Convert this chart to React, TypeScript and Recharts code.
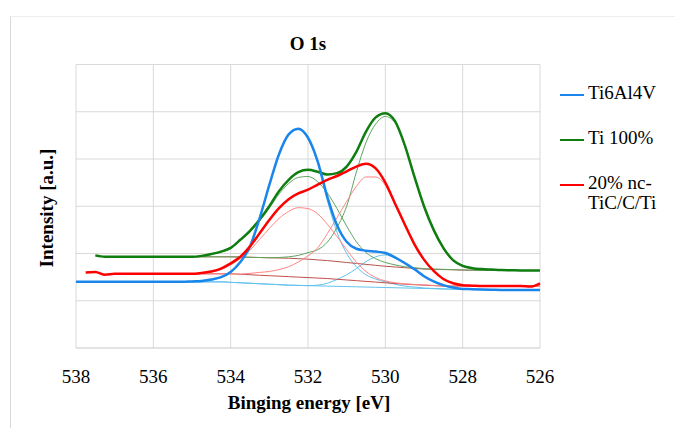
import { CartesianGrid, Line, LineChart, XAxis, YAxis } from 'recharts';

// binding energy grid (eV), high to low
const energy = [
  538, 537.75, 537.5, 537.25, 537, 536.75, 536.5, 536.25, 536, 535.75, 535.5, 535.25, 535, 534.75, 534.5, 534.25,
  534, 533.75, 533.5, 533.25, 533, 532.75, 532.5, 532.25, 532, 531.75, 531.5, 531.25, 531, 530.75, 530.5, 530.25,
  530, 529.75, 529.5, 529.25, 529, 528.75, 528.5, 528.25, 528, 527.75, 527.5, 527.25, 527, 526.75, 526.5, 526.25, 526,
];

const xTicks = [538, 536, 534, 532, 530, 528, 526];
const yTicks = [0, 1, 2, 3, 4, 5, 6];

const N = null;

// Ti6Al4V
const ti64 = [
  1.4, 1.4, 1.4, 1.4, 1.4, 1.4, 1.4, 1.4, 1.4, 1.4, 1.4, 1.4, 1.41, 1.42, 1.45, 1.5,
  1.61, 1.82, 2.15, 2.75, 3.45, 4.1, 4.52, 4.64, 4.45, 3.95, 3.2, 2.6, 2.25, 2.1, 2.06, 2.04,
  2.01, 1.92, 1.8, 1.67, 1.52, 1.41, 1.33, 1.28, 1.25, 1.245, 1.24, 1.235, 1.23, 1.23, 1.23, 1.23, 1.23,
];
const ti64Bg = [
  N, N, N, N, N, N, N, N, N, N, 1.4, 1.4, 1.4, 1.4, 1.4, 1.4,
  1.39, 1.38, 1.37, 1.36, 1.35, 1.34, 1.33, 1.325, 1.32, 1.315, 1.31, 1.305, 1.3, 1.295, 1.29, 1.285,
  1.28, 1.275, 1.27, 1.265, 1.26, 1.255, 1.25, 1.245, 1.24, 1.237, 1.235, 1.232, 1.23, 1.23, 1.23, 1.23, 1.23,
];
const ti64P1 = [
  N, N, N, N, N, N, N, N, N, N, 1.4, 1.4, 1.4, 1.4, 1.44, 1.49,
  1.6, 1.81, 2.14, 2.74, 3.44, 4.09, 4.51, 4.62, 4.42, 3.91, 3.12, 2.45, 2.0, 1.72, 1.55, 1.46,
  1.4, 1.35, 1.31, 1.29, 1.27, 1.26, 1.25, 1.245, 1.24, 1.237, 1.235, 1.232, 1.23, 1.23, 1.23, 1.23, 1.23,
];
const ti64P2 = [
  N, N, N, N, N, N, N, N, N, N, 1.4, 1.4, 1.4, 1.4, 1.4, 1.4,
  1.39, 1.38, 1.37, 1.36, 1.35, 1.34, 1.33, 1.325, 1.32, 1.33, 1.37, 1.45, 1.55, 1.68, 1.83, 1.93,
  1.97, 1.9, 1.78, 1.65, 1.51, 1.4, 1.32, 1.27, 1.245, 1.238, 1.235, 1.232, 1.23, 1.23, 1.23, 1.23, 1.23,
];

// Ti 100%
const ti100 = [
  N, N, 1.96, 1.93, 1.93, 1.93, 1.93, 1.93, 1.93, 1.93, 1.93, 1.93, 1.93, 1.95, 1.99, 2.04,
  2.12, 2.29, 2.48, 2.72, 3.0, 3.32, 3.56, 3.72, 3.77, 3.73, 3.67, 3.7, 3.84, 4.15, 4.58, 4.88,
  4.97, 4.8, 4.3, 3.63, 3.0, 2.5, 2.12, 1.86, 1.74, 1.69, 1.67, 1.66, 1.65, 1.645, 1.64, 1.64, 1.64,
];
const ti100Bg = [
  N, N, N, N, N, N, N, N, N, N, 1.93, 1.93, 1.93, 1.93, 1.93, 1.93,
  1.93, 1.925, 1.92, 1.915, 1.91, 1.905, 1.9, 1.89, 1.88, 1.865, 1.85, 1.83, 1.81, 1.79, 1.77, 1.75,
  1.73, 1.715, 1.7, 1.685, 1.67, 1.665, 1.66, 1.655, 1.65, 1.647, 1.645, 1.642, 1.64, 1.64, 1.64, 1.64, 1.64,
];
const ti100P1 = [
  N, N, N, N, N, N, N, N, N, N, 1.93, 1.93, 1.93, 1.94, 1.98, 2.03,
  2.11, 2.27, 2.46, 2.69, 2.96, 3.26, 3.48, 3.61, 3.63, 3.52, 3.28, 2.95, 2.58, 2.25, 2.02, 1.89,
  1.81, 1.76, 1.72, 1.7, 1.68, 1.67, 1.665, 1.66, 1.65, 1.647, 1.645, 1.642, 1.64, 1.64, 1.64, 1.64, 1.64,
];
const ti100P2 = [
  N, N, N, N, N, N, N, N, N, N, 1.93, 1.93, 1.93, 1.93, 1.93, 1.93,
  1.93, 1.925, 1.92, 1.915, 1.91, 1.915, 1.93, 1.96, 2.02, 2.08, 2.24, 2.55, 3.0, 3.72, 4.35, 4.74,
  4.9, 4.77, 4.28, 3.61, 2.99, 2.49, 2.11, 1.85, 1.73, 1.685, 1.665, 1.65, 1.645, 1.64, 1.64, 1.64, 1.64,
];

// 20% nc-TiC/C/Ti
const ncTiC = [
  N, 1.6, 1.61, 1.55, 1.57, 1.57, 1.57, 1.57, 1.57, 1.57, 1.57, 1.57, 1.57, 1.59, 1.62, 1.68,
  1.79, 1.93, 2.15, 2.43, 2.71, 2.96, 3.15, 3.27, 3.35, 3.46, 3.56, 3.64, 3.74, 3.84, 3.9, 3.8,
  3.5, 3.06, 2.62, 2.2, 1.87, 1.63, 1.46, 1.37, 1.33, 1.32, 1.31, 1.31, 1.31, 1.31, 1.31, 1.3, 1.37,
];
const ncTiCBg = [
  N, N, N, N, N, N, N, N, N, N, 1.57, 1.57, 1.57, 1.57, 1.57, 1.57,
  1.57, 1.56, 1.55, 1.54, 1.53, 1.52, 1.51, 1.5, 1.49, 1.48, 1.47, 1.455, 1.44, 1.425, 1.41, 1.395,
  1.38, 1.365, 1.35, 1.34, 1.33, 1.32, 1.31, 1.31, 1.31, 1.31, 1.31, 1.31, 1.31, 1.31, 1.31, 1.31, 1.31,
];
const ncTiCP1 = [
  N, N, N, N, N, N, N, N, N, N, 1.57, 1.57, 1.57, 1.58, 1.61, 1.66,
  1.76, 1.89, 2.07, 2.3, 2.53, 2.74, 2.89, 2.97, 2.95, 2.84, 2.62, 2.36, 2.08, 1.82, 1.62, 1.49,
  1.42, 1.38, 1.36, 1.345, 1.335, 1.325, 1.315, 1.31, 1.31, 1.31, 1.31, 1.31, 1.31, 1.31, 1.31, 1.31, 1.31,
];
const ncTiCP2 = [
  N, N, N, N, N, N, N, N, N, N, 1.57, 1.57, 1.57, 1.57, 1.57, 1.57,
  1.57, 1.565, 1.58, 1.6, 1.62, 1.66, 1.72, 1.82, 1.95, 2.12, 2.42, 2.76, 3.1, 3.42, 3.62, 3.62,
  3.44, 3.03, 2.6, 2.19, 1.86, 1.62, 1.46, 1.37, 1.33, 1.32, 1.31, 1.31, 1.31, 1.31, 1.31, 1.31, 1.31,
];

const rows = energy.map((e, i) => ({
  energy: e,
  ti64: ti64[i],
  ti64Bg: ti64Bg[i],
  ti64P1: ti64P1[i],
  ti64P2: ti64P2[i],
  ti100: ti100[i],
  ti100Bg: ti100Bg[i],
  ti100P1: ti100P1[i],
  ti100P2: ti100P2[i],
  ncTiC: ncTiC[i],
  ncTiCBg: ncTiCBg[i],
  ncTiCP1: ncTiCP1[i],
  ncTiCP2: ncTiCP2[i],
}));

const legendItems = [
  { label: 'Ti6Al4V', color: '#1a85ea' },
  { label: 'Ti 100%', color: '#0f7d0f' },
  { label: '20% nc-TiC/C/Ti', color: '#ff0000' },
];

const serif = '"Liberation Serif", "Times New Roman", serif';

const thin = [
  { key: 'ti64Bg', color: '#63c3ee' },
  { key: 'ti64P1', color: '#63c3ee' },
  { key: 'ti64P2', color: '#63c3ee' },
  { key: 'ti100Bg', color: '#b5544f' },
  { key: 'ti100P1', color: '#5fa55f' },
  { key: 'ti100P2', color: '#5fa55f' },
  { key: 'ncTiCBg', color: '#c4504d' },
  { key: 'ncTiCP1', color: '#ff8585' },
  { key: 'ncTiCP2', color: '#ff8585' },
];

export default function App() {
  return (
    <div
      style={{
        position: 'fixed',
        left: 0,
        top: 0,
        width: 675,
        height: 428,
        background: '#fff',
        overflow: 'hidden',
        fontFamily: serif,
        color: '#000',
      }}
    >
      <div
        style={{
          position: 'absolute',
          left: 10,
          top: 16,
          width: 700,
          height: 440,
          borderLeft: '1px solid #d9d9d9',
          borderTop: '1px solid #eeeeee',
        }}
      />
      <div
        style={{
          position: 'absolute',
          left: 208,
          width: 200,
          top: 33,
          lineHeight: '22px',
          textAlign: 'center',
          fontWeight: 'bold',
          fontSize: 19,
        }}
      >
        O 1s
      </div>
      <div
        style={{
          position: 'absolute',
          left: 47,
          top: 208,
          transform: 'translate(-50%, -50%) rotate(-90deg)',
          whiteSpace: 'nowrap',
          fontWeight: 'bold',
          fontSize: 19,
        }}
      >
        Intensity [a.u.]
      </div>
      <div
        style={{
          position: 'absolute',
          left: 209,
          width: 200,
          top: 392,
          lineHeight: '22px',
          textAlign: 'center',
          fontWeight: 'bold',
          fontSize: 19,
          whiteSpace: 'nowrap',
        }}
      >
        Binging energy [eV]
      </div>
      <div style={{ position: 'absolute', left: 560, top: 83, width: 110, fontSize: 19 }}>
        {legendItems.map((item, i) => (
          <div key={item.label} style={{ position: 'relative', height: i === 2 ? 44 : 45 }}>
            <div
              style={{
                position: 'absolute',
                left: 0,
                top: 11,
                width: 24,
                height: 2,
                background: item.color,
              }}
            />
            <div style={{ position: 'absolute', left: 28, top: 0, width: 82, lineHeight: '20px' }}>
              {item.label === '20% nc-TiC/C/Ti' ? (
                <>
                  20% nc-
                  <br />
                  TiC/C/Ti
                </>
              ) : (
                item.label
              )}
            </div>
          </div>
        ))}
      </div>
      <div style={{ position: 'absolute', left: 0, top: 0 }}>
        <LineChart width={675} height={428} data={rows} margin={{ top: 64.5, right: 135, bottom: 50, left: 76 }}>
          <CartesianGrid stroke="#d9d9d9" />
          <XAxis
            dataKey="energy"
            type="number"
            domain={[526, 538]}
            ticks={xTicks}
            reversed
            height={30}
            tickSize={0}
            tickMargin={22}
            axisLine={{ stroke: '#d9d9d9' }}
            tickLine={false}
            tick={{ fontSize: 19, fill: '#000', fontFamily: serif }}
          />
          <YAxis hide type="number" domain={[0, 6]} ticks={yTicks} />
          {thin.map((s) => (
            <Line
              key={s.key}
              dataKey={s.key}
              type="monotone"
              stroke={s.color}
              strokeWidth={1}
              dot={false}
              activeDot={false}
              isAnimationActive={false}
            />
          ))}
          <Line dataKey="ti100" type="monotone" stroke="#0f7d0f" strokeWidth={2.5} dot={false} isAnimationActive={false} />
          <Line dataKey="ti64" type="monotone" stroke="#1a85ea" strokeWidth={2.5} dot={false} isAnimationActive={false} />
          <Line dataKey="ncTiC" type="monotone" stroke="#ff0000" strokeWidth={2.5} dot={false} isAnimationActive={false} />
        </LineChart>
      </div>
    </div>
  );
}
